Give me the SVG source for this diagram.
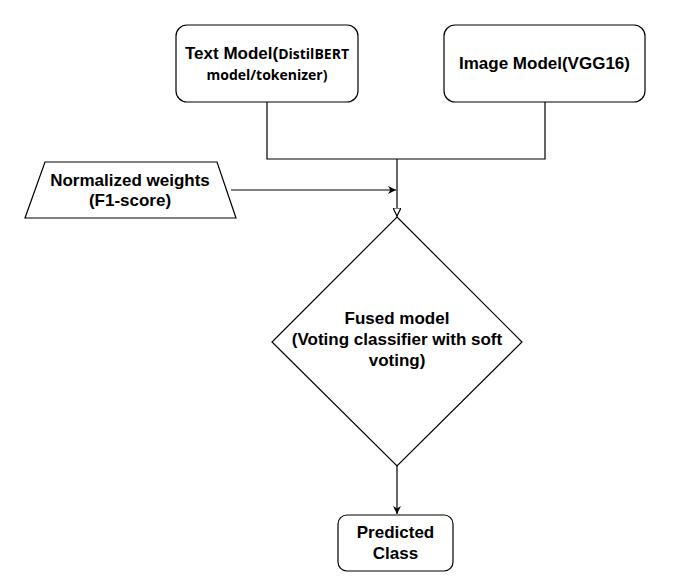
<svg xmlns="http://www.w3.org/2000/svg" width="680" height="583" viewBox="0 0 680 583">
<defs>
<style>
.shape{fill:#fff;stroke:#000;stroke-width:1.2}
.edge{fill:none;stroke:#000;stroke-width:1.2}
.t{font-family:"Liberation Sans",Arial,sans-serif;font-weight:bold;font-size:17px;fill:#000;text-anchor:middle}
.c{font-family:"Open Sans","Noto Sans",sans-serif;font-weight:bold;font-size:14px}
</style>
<marker id="filled" viewBox="0 0 10 10" refX="10" refY="5" markerWidth="8" markerHeight="8" markerUnits="userSpaceOnUse" orient="auto">
<path d="M0,0 L10,5 L0,10 L3,5 Z" fill="#000"/>
</marker>
<marker id="open" viewBox="0 0 10 10" refX="10" refY="5" markerWidth="8" markerHeight="8" markerUnits="userSpaceOnUse" orient="auto">
<path d="M0,0 L10,5 L0,10 Z" fill="#fff" stroke="#000" stroke-width="1.5"/>
</marker>
</defs>
<rect width="680" height="583" fill="#fff"/>
<g id="connectors">
<path class="edge" d="M267,102 V159 H545 V102"/>
<path class="edge" d="M397,159 V216" marker-end="url(#open)"/>
<path class="edge" d="M397,216 V217"/>
<path class="edge" d="M231,190 H396" marker-end="url(#filled)"/>
<path class="edge" d="M397,466 V514" marker-end="url(#filled)"/>
</g>
<g id="text-model">
<rect class="shape" x="176" y="25" width="182" height="77" rx="11"/>
<text class="t" x="267" y="59">Text Model(<tspan class="c">DistilBERT</tspan></text>
<text class="t" x="267" y="80"><tspan class="c">model/tokenizer)</tspan></text>
</g>
<g id="image-model">
<rect class="shape" x="444" y="25" width="201" height="77" rx="11"/>
<text class="t" x="544.5" y="69">Image Model(VGG16)</text>
</g>
<g id="normalized-weights">
<polygon class="shape" points="45,162 217,162 236,218 25,218"/>
<text class="t" x="130" y="186">Normalized weights</text>
<text class="t" x="130" y="206">(F1-score)</text>
</g>
<g id="fused-model">
<polygon class="shape" points="397,217 522,342 397,466 272,342"/>
<text class="t" x="397" y="324">Fused model</text>
<text class="t" x="397" y="345">(Voting classifier with soft</text>
<text class="t" x="397" y="366">voting)</text>
</g>
<g id="predicted-class">
<rect class="shape" x="338" y="515" width="115" height="56" rx="9"/>
<text class="t" x="395.5" y="538">Predicted</text>
<text class="t" x="395.5" y="559">Class</text>
</g>
</svg>
